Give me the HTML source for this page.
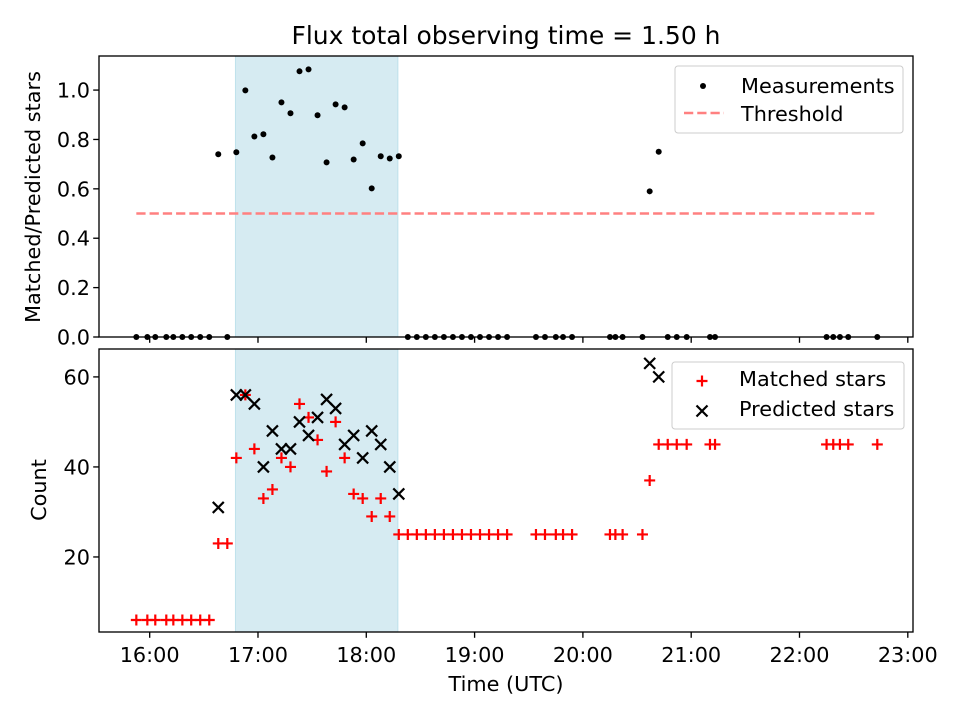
<!DOCTYPE html>
<html><head><meta charset="utf-8"><style>
body{margin:0;background:#fff}
svg text{font-family:"DejaVu Sans","Liberation Sans",sans-serif;fill:#000}
</style></head><body>
<svg id="chart" width="960" height="720" viewBox="0 0 960 720" xmlns="http://www.w3.org/2000/svg">
<rect width="960" height="720" fill="#fff"/>
<text x="506" y="44" font-size="25" text-anchor="middle">Flux total observing time = 1.50 h</text>
<g id="top"></g><g id="bot"></g>
</svg>
<script>
// minutes after 16:00
const timesMin = [-7.4,-1.3,3.1,9.2,13.1,18.1,23,28,33,38,43,48,53,58,63,68,73,78,83,88,93,98,103,108,113,118,123,128,133,138,143,148,153,158,163,168,173,178,183,188,193,198,214,219,225,229,234,255,258,262,273,277,282,287,292,297.5,310.4,313.2,375,378.7,382.4,387,403.1];
const ratioVals = [0,0,0,0,0,0,0,0,0,0.74,0,0.748,0.999,0.812,0.821,0.727,0.95,0.906,1.076,1.084,0.898,0.707,0.942,0.93,0.719,0.784,0.602,0.732,0.723,0.732,0,0,0,0,0,0,0,0,0,0,0,0,0,0,0,0,0,0,0,0,0,0.59,0.75,0,0,0,0,0,0,0,0,0,0];
const matchedVals = [6,6,6,6,6,6,6,6,6,23,23,42,56,44,33,35,42,40,54,51,46,39,50,42,34,33,29,33,29,25,25,25,25,25,25,25,25,25,25,25,25,25,25,25,25,25,25,25,25,25,25,37,45,45,45,45,45,45,45,45,45,45,45];
const predictedVals = [null,null,null,null,null,null,null,null,null,31,null,56,56,54,40,48,44,44,50,47,51,55,53,45,47,42,48,45,40,34,null,null,null,null,null,null,null,null,null,null,null,null,null,null,null,null,null,null,null,null,null,63,60,null,null,null,null,null,null,null,null,null,null];
const xTickLabels = ["16:00","17:00","18:00","19:00","20:00","21:00","22:00","23:00"];
const topTicks = ["0.0","0.2","0.4","0.6","0.8","1.0"];
const botTicks = ["20","40","60"];
const threshold = 0.5;
const spanStart = 16.792, spanEnd = 18.292;

const NS="http://www.w3.org/2000/svg";
const L=99,R=913;
const xMin=15.532,xMax=23.048;
const X=h=>L+(h-xMin)/(xMax-xMin)*(R-L);
const T={top:56,bot:337,min:0,max:1.138};
const B={top:349,bot:632,min:3.33,max:66.2};
const Y=(a,v)=>a.bot-(v-a.min)/(a.max-a.min)*(a.bot-a.top);
function mk(tag,attrs,parent){const e=document.createElementNS(NS,tag);for(const k in attrs)e.setAttribute(k,attrs[k]);parent.appendChild(e);return e;}
const hours=timesMin.map(m=>16+m/60);
const gT=document.getElementById('top'),gB=document.getElementById('bot');

function frame(g,a,name){
  const s=mk('rect',{x:X(spanStart),y:a.top,width:X(spanEnd)-X(spanStart),height:a.bot-a.top,fill:'#add8e6','fill-opacity':0.5,stroke:'#add8e6','stroke-opacity':0.7},g);
  
  
}
function axes(g,a,name,labels){
  const r=mk('rect',{x:L,y:a.top,width:R-L,height:a.bot-a.top,fill:'none',stroke:'#000','stroke-width':1.33},g);
  
  
  xTickLabels.forEach((lab,i)=>{
    const x=X(16+i);
    const t=mk('line',{x1:x,x2:x,y1:a.bot,y2:a.bot+5.8,stroke:'#000','stroke-width':1.33},g);
    
    
    if(labels){
      const tx=mk('text',{x:x,y:a.bot+30,'font-size':20.8,'text-anchor':'middle'},g);tx.textContent=lab;
      
      
    }
  });
}
function yticks(g,a,name,labs){
  labs.forEach(lab=>{
    const v=parseFloat(lab),y=Y(a,v);
    const t=mk('line',{x1:L-5.8,x2:L,y1:y,y2:y,stroke:'#000','stroke-width':1.33},g);
    
    
    const tx=mk('text',{x:L-9,y:y+7.5,'font-size':20.8,'text-anchor':'end'},g);tx.textContent=lab;
    
    
  });
}
// top panel
frame(gT,T,'top');
const th=mk('line',{x1:X(hours[0]),x2:X(hours[hours.length-1]),y1:Y(T,threshold),y2:Y(T,threshold),stroke:'#ff8080','stroke-width':2.5,'stroke-dasharray':'9.25 4'},gT);


hours.forEach((h,i)=>{
  const c=mk('circle',{cx:X(h),cy:Y(T,ratioVals[i]),r:3,fill:'#000'},gT);
  
  
});
axes(gT,T,'top',false);
yticks(gT,T,'top',topTicks);
// bottom panel
frame(gB,B,'bottom');
function plus(x,y,g){const p=mk('path',{d:`M${x-5.5} ${y}H${x+5.5}M${x} ${y-5.5}V${y+5.5}`,stroke:'#f00','stroke-width':2.2,fill:'none'},g);return p;}
function cross(x,y,g){return mk('path',{d:`M${x-5.5} ${y-5.5}L${x+5.5} ${y+5.5}M${x-5.5} ${y+5.5}L${x+5.5} ${y-5.5}`,stroke:'#000','stroke-width':2.2,fill:'none'},g);}
hours.forEach((h,i)=>{
  const p=plus(X(h),Y(B,matchedVals[i]),gB);
  
  
});
hours.forEach((h,i)=>{
  if(predictedVals[i]==null)return;
  const p=cross(X(h),Y(B,predictedVals[i]),gB);
  
  
});
axes(gB,B,'bottom',true);
yticks(gB,B,'bottom',botTicks);
</script>
<svg style="position:absolute;left:0;top:0" width="960" height="720">
<text transform="translate(40,197) rotate(-90)" font-size="20.8" text-anchor="middle">Matched/Predicted stars</text>
<text transform="translate(46,490) rotate(-90)" font-size="20.8" text-anchor="middle">Count</text>
<text x="506" y="691" font-size="20.8" text-anchor="middle">Time (UTC)</text>
<g>
<rect x="675" y="66" width="228" height="67" rx="3" fill="#fff" fill-opacity="0.8" stroke="#ccc"/>
<circle cx="703" cy="86" r="3" fill="#000"/>
<text x="741" y="93" font-size="20.8">Measurements</text>
<line x1="684" x2="724" y1="113" y2="113" stroke="#ff8080" stroke-width="2.5" stroke-dasharray="9.25 4"/>
<text x="741" y="121" font-size="20.8">Threshold</text>
</g>
<g>
<rect x="672" y="362" width="232" height="67" rx="3" fill="#fff" fill-opacity="0.8" stroke="#ccc"/>
<path d="M696.5 381H707.5M702 375.5V386.5" stroke="#f00" stroke-width="2.2"/>
<text x="739" y="386" font-size="20.8">Matched stars</text>
<path d="M696.5 405.5L707.5 416.5M696.5 416.5L707.5 405.5" stroke="#000" stroke-width="2.2"/>
<text x="739" y="416" font-size="20.8">Predicted stars</text>
</g>
</svg>
</body></html>
